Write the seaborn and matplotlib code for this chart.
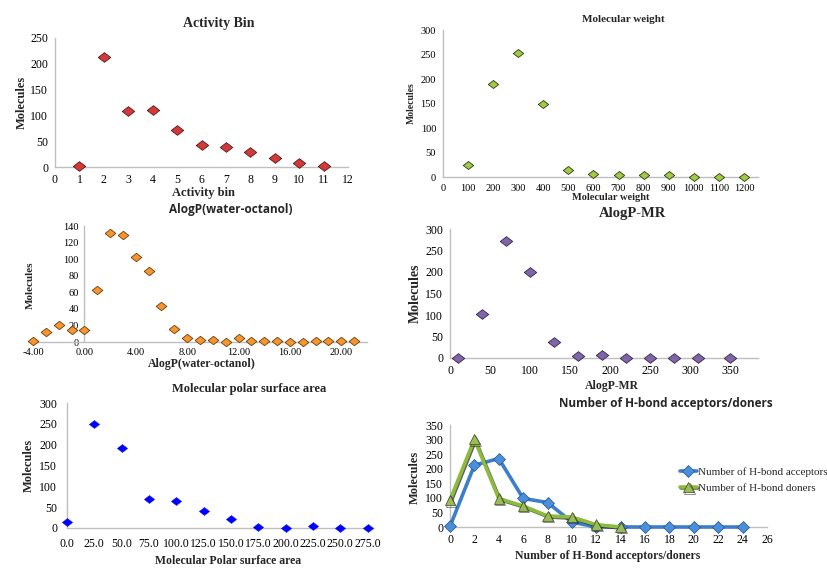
import matplotlib
matplotlib.use("Agg")
import matplotlib.pyplot as plt
import matplotlib.patheffects as pe
from matplotlib.ticker import FormatStrFormatter, MultipleLocator
import seaborn as sns

# values
activity_bin = [1, 2, 3, 4, 5, 6, 7, 8, 9, 10, 11]
activity_count = [1, 213, 109, 111, 72, 42, 39, 29, 17, 8, 1]

mw_bin = [100, 200, 300, 400, 500, 600, 700, 800, 900, 1000, 1100, 1200]
mw_count = [24, 190, 254, 148, 14, 6, 4, 4, 4, 0, 0, 0]

alogp_bin = list(range(-4, 22))
alogp_count = [1, 12, 20, 14, 14, 63, 131, 129, 103, 86, 44, 16, 5,
               3, 2, 0, 5, 1, 1, 1, 0, 0, 1, 1, 1, 1]

mr_bin = [10, 40, 70, 100, 130, 160, 190, 220, 250, 280, 310, 350]
mr_count = [1, 103, 271, 199, 37, 4, 7, 1, 1, 0, 0, 0]

psa_bin = [0, 25, 50, 75, 100, 125, 150, 175, 200, 225, 250, 275]
psa_count = [14, 250, 193, 70, 64, 40, 22, 2, 0, 4, 0, 1]

hb_acc_x = [0, 2, 4, 6, 8, 10, 12, 14, 16, 18, 20, 22, 24]
hb_acc = [2, 212, 235, 98, 84, 17, 0, 0, 0, 0, 0, 0, 0]
hb_don_x = [0, 2, 4, 6, 8, 10, 12, 14]
hb_don = [92, 301, 98, 72, 38, 34, 8, 0]

sns.set_theme(style="white")
plt.rcParams['font.family'] = ['Liberation Serif', 'DejaVu Serif']
SANS = ['Open Sans', 'DejaVu Sans']

W, H = 827, 576
fig = plt.figure(figsize=(W / 100, H / 100), dpi=100)

# wide diamond like the excel marker
diamond = [(-1, 0), (0, 0.78), (1, 0), (0, -0.78), (-1, 0)]


def axes_px(left, top, right, bottom):
    return fig.add_axes([left / W, 1 - bottom / H, (right - left) / W, (bottom - top) / H])


def label_px(x, y, text, size, rot=0, family=None, weight='bold'):
    kw = {}
    if family is not None:
        kw['family'] = family
    fig.text(x / W, 1 - y / H, text, fontsize=size, fontweight=weight,
             rotation=rot, ha='center', va='center', **kw)


def style(ax, tsize, pad=3):
    for s in ['top', 'right']:
        ax.spines[s].set_visible(False)
    for s in ['left', 'bottom']:
        ax.spines[s].set_color('#BFBFBF')
        ax.spines[s].set_linewidth(1.0)
    ax.tick_params(axis='both', length=0, labelsize=tsize, pad=pad, colors='black')
    ax.set_xlabel('')
    ax.set_ylabel('')


# Activity Bin
ax1 = axes_px(55, 38, 348, 167)
sns.scatterplot(x=activity_bin, y=activity_count, ax=ax1, marker=diamond, s=80,
                color='#D23A3A', edgecolor='#5a1818', linewidth=0.6, clip_on=False, zorder=3)
ax1.set_xlim(0, 12)
ax1.set_ylim(0, 250)
ax1.xaxis.set_major_locator(MultipleLocator(1))
ax1.yaxis.set_major_locator(MultipleLocator(50))
style(ax1, 8.5, pad=5)
label_px(219, 23, 'Activity Bin', 10)
label_px(203, 193, 'Activity bin', 9)
label_px(22, 102, 'Molecules', 9, rot=90)

# Molecular weight
ax2 = axes_px(443, 30, 758, 177)
sns.scatterplot(x=mw_bin, y=mw_count, ax=ax2, marker=diamond, s=55,
                color='#9FCB45', edgecolor='#2f3a12', linewidth=0.6, clip_on=False, zorder=3)
ax2.set_xlim(0, 1256)
ax2.set_ylim(0, 300)
ax2.xaxis.set_major_locator(MultipleLocator(100))
ax2.yaxis.set_major_locator(MultipleLocator(50))
style(ax2, 7.5, pad=5)
label_px(623, 19, 'Molecular weight', 8)
label_px(611, 198, 'Molecular weight', 7.5)
label_px(411, 103, 'Molecules', 7, rot=90)

# AlogP(water-octanol)
ax3 = axes_px(33, 226, 367, 342)
sns.scatterplot(x=alogp_bin, y=alogp_count, ax=ax3, marker=diamond, s=60,
                color='#F7962F', edgecolor='#6b3e0c', linewidth=0.6, clip_on=False, zorder=3)
ax3.set_xlim(-4, 22)
ax3.set_ylim(0, 140)
ax3.xaxis.set_major_locator(MultipleLocator(4))
ax3.yaxis.set_major_locator(MultipleLocator(20))
ax3.xaxis.set_major_formatter(FormatStrFormatter('%.2f'))
style(ax3, 7.5, pad=4)
ax3.spines['left'].set_position(('data', 0))
label_px(231, 210, 'AlogP(water-octanol)', 8.5, family=SANS)
label_px(202, 364, 'AlogP(water-octanol)', 8.5)
label_px(30, 285, 'Molecules', 8, rot=90)

# AlogP-MR
ax4 = axes_px(450, 229, 758, 358)
sns.scatterplot(x=mr_bin, y=mr_count, ax=ax4, marker=diamond, s=80,
                color='#8264A8', edgecolor='#35254d', linewidth=0.6, clip_on=False, zorder=3)
ax4.set_xlim(0, 385)
ax4.set_ylim(0, 300)
ax4.xaxis.set_major_locator(MultipleLocator(50))
ax4.yaxis.set_major_locator(MultipleLocator(50))
style(ax4, 8.5, pad=5)
label_px(632, 213, 'AlogP-MR', 10.5)
label_px(612, 386, 'AlogP-MR', 8.5)
label_px(415, 293, 'Molecules', 10, rot=90)

# Molecular polar surface area
ax5 = axes_px(67, 403, 373, 528)
sns.scatterplot(x=psa_bin, y=psa_count, ax=ax5, marker=diamond, s=55,
                color='#0000FF', edgecolor='#0000FF', linewidth=0.3, clip_on=False, zorder=3)
ax5.set_xlim(0, 280)
ax5.set_ylim(0, 300)
ax5.xaxis.set_major_locator(MultipleLocator(25))
ax5.yaxis.set_major_locator(MultipleLocator(50))
ax5.xaxis.set_major_formatter(FormatStrFormatter('%.1f'))
style(ax5, 8.5, pad=7)
label_px(249, 389, 'Molecular polar surface area', 9)
label_px(228, 561, 'Molecular Polar surface area', 8.5)
label_px(29, 465, 'Molecules', 9, rot=90)

# Number of H-bond acceptors/doners
ax6 = axes_px(450, 425, 767, 527)
sns.lineplot(x=hb_acc_x, y=hb_acc, ax=ax6, color='#3C7DCC', linewidth=2.6,
             marker='D', markersize=6, markerfacecolor='#4A8FDB', markeredgecolor='#23508a',
             markeredgewidth=0.5, label='Number of H-bond acceptors', clip_on=False, zorder=3)
sns.lineplot(x=hb_don_x, y=hb_don, ax=ax6, color='#8DBB3C', linewidth=2.6,
             marker='^', markersize=7.5, markerfacecolor='#9BBB59', markeredgecolor='#3a4a1a',
             markeredgewidth=0.5, label='Number of H-bond doners', clip_on=False, zorder=4,
             path_effects=[pe.SimpleLineShadow(offset=(0.8, -0.8), shadow_color='#222222', alpha=0.7),
                           pe.Normal()])
ax6.set_xlim(0, 26)
ax6.set_ylim(0, 350)
ax6.xaxis.set_major_locator(MultipleLocator(2))
ax6.yaxis.set_major_locator(MultipleLocator(50))
style(ax6, 8.5, pad=5)
ax6.legend(loc='center left', bbox_to_anchor=(674 / W, 1 - 480 / H),
           bbox_transform=fig.transFigure, frameon=False, fontsize=8,
           handlelength=1.6, handletextpad=0.1, labelspacing=0.6, borderpad=0)
label_px(666, 404, 'Number of H-bond acceptors/doners', 8.5, family=SANS)
label_px(608, 556, 'Number of H-Bond acceptors/doners', 8.5)
label_px(415, 477, 'Molecules', 9, rot=90)

fig.savefig('out.png', dpi=100)
